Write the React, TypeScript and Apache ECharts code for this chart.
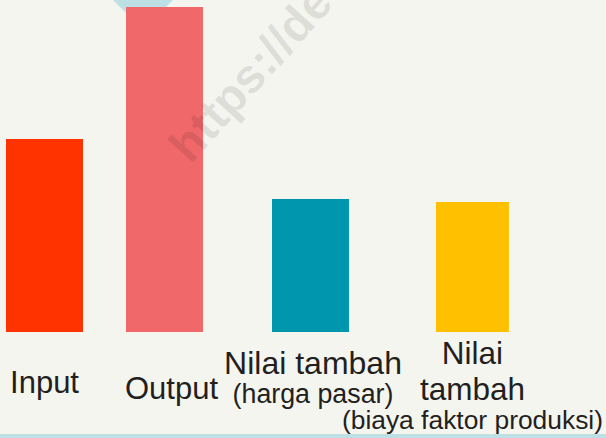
import React, { useEffect, useRef } from "react";
import * as echarts from "echarts";

// ---- data ----
const categories = ["Input", "Output", "Nilai tambah (harga pasar)", "Nilai tambah (biaya faktor produksi)"];
const values = [59.4, 100, 40.9, 40];
const barColors = ["#ff3300", "#f0686a", "#0096ad", "#ffc000"];
const watermarkText = "https://de";

// ---- layout (pixels) ----
const W = 606;
const H = 438;
const barLefts = [6, 126, 272, 436];
const barWidthPx = 77;
const gridTop = 7;
const gridBottom = 106;
const FONT = "'Liberation Sans', Arial, Helvetica, sans-serif";
const TEXT = "#231f20";

const labelSpecs = [
  { formatter: "{a|Input}", margin: 34.8, padding: [0, 0, 0, 0], rich: { a: { fontSize: 31, lineHeight: 31 } } },
  { formatter: "{a|Output}", margin: 40.8, padding: [0, 0, 0, 14], rich: { a: { fontSize: 31, lineHeight: 31 } } },
  {
    formatter: "{a|Nilai tambah}\n{b|(harga pasar)}",
    margin: 14.9,
    padding: [0, 0, 0, 5],
    rich: { a: { fontSize: 32, lineHeight: 32 }, b: { fontSize: 26.8, lineHeight: 29.6 } },
  },
  {
    formatter: "{a|Nilai}\n{a|tambah}\n{b|(biaya faktor produksi)}",
    margin: 3.1,
    padding: [0, 0, 0, 0],
    rich: { a: { fontSize: 31.5, lineHeight: 36 }, b: { fontSize: 26.4, lineHeight: 25.6 } },
  },
];

export default function App() {
  const ref = useRef<HTMLDivElement>(null);
  useEffect(() => {
    if (!ref.current) return;
    const chart = echarts.init(ref.current, undefined, { renderer: "svg" });
    const grids: any[] = [];
    const xAxes: any[] = [];
    const yAxes: any[] = [];
    const series: any[] = [];
    categories.forEach((cat, i) => {
      grids.push({ left: barLefts[i], width: barWidthPx, top: gridTop, bottom: gridBottom, containLabel: false });
      const spec = labelSpecs[i];
      const rich: any = {};
      Object.keys(spec.rich).forEach((k) => {
        rich[k] = { ...(spec.rich as any)[k], fontFamily: FONT, color: TEXT, align: "center" };
      });
      xAxes.push({
        type: "category",
        gridIndex: i,
        data: [cat],
        axisLine: { show: false },
        axisTick: { show: false },
        splitLine: { show: false },
        axisLabel: {
          show: true,
          interval: 0,
          margin: spec.margin,
          padding: spec.padding,
          fontFamily: FONT,
          color: TEXT,
          formatter: () => spec.formatter,
          rich,
        },
      });
      yAxes.push({ type: "value", gridIndex: i, min: 0, max: 100, show: false, splitLine: { show: false } });
      series.push({
        type: "bar",
        xAxisIndex: i,
        yAxisIndex: i,
        data: [values[i]],
        barWidth: "100%",
        itemStyle: { color: barColors[i] },
        z: 2,
      });
    });
    chart.setOption({
      animation: false,
      backgroundColor: "#f5f5f0",
      grid: grids,
      xAxis: xAxes,
      yAxis: yAxes,
      series,
      graphic: [
        {
          type: "polygon",
          z: 0,
          shape: { points: [[113, 0], [173, 0], [143, 30]] },
          style: { fill: "#bde0e4" },
        },
        {
          type: "rect",
          z: 0,
          shape: { x: 0, y: 434, width: W, height: 4 },
          style: { fill: "#bde0e4" },
        },
        {
          type: "text",
          z: 100,
          x: 196,
          y: 170,
          rotation: (48 * Math.PI) / 180,
          style: {
            text: watermarkText,
            font: `bold 48px ${FONT}`,
            fill: "rgba(0,0,0,0.1)",
            verticalAlign: "bottom",
            align: "left",
          },
        },
      ],
    });
    return () => chart.dispose();
  }, []);
  return <div ref={ref} style={{ position: "fixed", left: 0, top: 0, width: W, height: H }} />;
}
